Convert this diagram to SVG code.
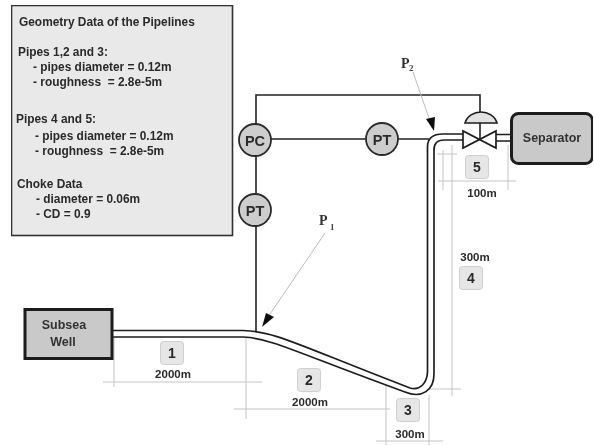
<svg xmlns="http://www.w3.org/2000/svg" width="594" height="445" viewBox="0 0 594 445">
<style>
text{font-family:"Liberation Sans",Arial,sans-serif;font-weight:bold;fill:#2a2a2a}
.info{font-size:11.9px}
.dim{font-size:11.5px;text-anchor:middle}
.num{font-size:14px;text-anchor:middle}
.node{font-size:12.5px;text-anchor:middle;fill:#333}
.sym{font-size:14.5px;text-anchor:middle}
.ref{font-family:"Liberation Serif",serif;font-size:14px;fill:#333}
.sub{font-family:"Liberation Serif",serif;font-size:9px;fill:#444}
.badge{fill:#e6e6e6;stroke:#cfcfcf;stroke-width:1}
.inst{fill:#cdcdcd;stroke:#2a2a2a;stroke-width:1.8}
.line{fill:none;stroke:#222;stroke-width:1.6}
.pipe{fill:none;stroke:#1e1e1e;stroke-width:1.7}
.dimline{fill:none;stroke:#c4c4c4;stroke-width:1}
.lead{fill:none;stroke:#bdbdbd;stroke-width:1}
.head{fill:#111}
</style>
<defs><filter id="soft" x="0" y="0" width="100%" height="100%"><feGaussianBlur stdDeviation="0.35"/></filter></defs>
<rect width="594" height="445" fill="#fff"/>
<g filter="url(#soft)">
<g id="connectors">
<path class="dimline" d="M103 382H262M114 338V387M246 338V419M234 409H390M386 385V445M429 395V445M376 441H443M452 145V396M430 389H461M437 154H457M438 181H516M443 150V190M508 145V190"/>
<path class="line" d="M256 124V95H480V123M271 139H366M398 139H429M256 156V193M256 226V331"/>
<path class="pipe" d="M113 330.500H243C275 331 300 346 410 388C420 391 427 383 427.500 372V147C427.500 138 433 134 443 134H463"/>
<path class="pipe" d="M113 337H243C270 338 295 352 405 392C422 399 434 390 434 374V150C434 143 438 140 444 140H463"/>
<path class="pipe" d="M496 134.500H511M496 141H511"/>
<path class="lead" d="M325 233L266 320M413 72L431 124"/>
<path class="head" d="M262 327L266 313L274 317Z"/>
<path class="head" d="M434 131L426 119L435 117Z"/>
</g>
<g id="info-box">
<rect x="11.500" y="5.500" width="221" height="230" fill="#e9e9e9" stroke="#333" stroke-width="1.6"/>
<text class="info" x="19" y="26">Geometry Data of the Pipelines</text>
<text class="info" x="18" y="56">Pipes 1,2 and 3:</text>
<text class="info" x="33" y="71">- pipes diameter = 0.12m</text>
<text class="info" x="33" y="86" xml:space="preserve">- roughness  = 2.8e-5m</text>
<text class="info" x="16" y="123">Pipes 4 and 5:</text>
<text class="info" x="35" y="140">- pipes diameter = 0.12m</text>
<text class="info" x="35" y="155" xml:space="preserve">- roughness  = 2.8e-5m</text>
<text class="info" x="17" y="188">Choke Data</text>
<text class="info" x="36" y="203">- diameter = 0.06m</text>
<text class="info" x="36" y="218">- CD = 0.9</text>
</g>
<g id="subsea-well">
<rect x="25" y="309.500" width="87" height="49" fill="#c9c9c9" stroke="#1a1a1a" stroke-width="3"/>
<text class="node" x="64" y="329">Subsea</text>
<text class="node" x="63" y="346">Well</text>
</g>
<g id="separator">
<rect x="511.500" y="113.500" width="81" height="50" rx="7" fill="#c9c9c9" stroke="#1a1a1a" stroke-width="3"/>
<text class="node" x="552" y="142">Separator</text>
</g>
<g id="choke-valve">
<path d="M463 131V148L496 131V148Z" fill="#fff" stroke="#1e1e1e" stroke-width="1.700" stroke-linejoin="miter"/>
<path d="M480 123V139" class="line"/>
<path d="M465 123H497C495 116 488 112 481 112C474 112 467 116 465 123Z" fill="#e2e2e2" stroke="#1e1e1e" stroke-width="1.700"/>
</g>
<g id="pc"><circle class="inst" cx="255" cy="140" r="16"/><text class="sym" x="255" y="145.500">PC</text></g>
<g id="pt-vertical"><circle class="inst" cx="255" cy="210" r="16"/><text class="sym" x="255" y="215.500">PT</text></g>
<g id="pt-horizontal"><circle class="inst" cx="382" cy="139" r="16"/><text class="sym" x="382" y="144.500">PT</text></g>
<g id="p1"><text class="ref" x="319" y="225">P</text><text class="sub" x="330" y="230">1</text></g>
<g id="p2"><text class="ref" x="401" y="68">P</text><text class="sub" x="409" y="71">2</text></g>
<g id="seg1"><rect class="badge" x="160.500" y="341.500" width="23" height="23" rx="3"/><text class="num" x="172" y="358">1</text><text class="dim" x="173" y="378">2000m</text></g>
<g id="seg2"><rect class="badge" x="297.500" y="368.500" width="23" height="23" rx="3"/><text class="num" x="309" y="385">2</text><text class="dim" x="310" y="405.500">2000m</text></g>
<g id="seg3"><rect class="badge" x="396.500" y="398.500" width="23" height="23" rx="3"/><text class="num" x="408" y="415">3</text><text class="dim" x="410" y="438">300m</text></g>
<g id="seg4"><rect class="badge" x="459.500" y="266.500" width="23" height="23" rx="3"/><text class="num" x="471" y="283">4</text><text class="dim" x="475" y="261">300m</text></g>
<g id="seg5"><rect class="badge" x="465.500" y="155.500" width="23" height="23" rx="3"/><text class="num" x="477" y="172">5</text><text class="dim" x="482" y="197">100m</text></g>
</g>
</svg>
